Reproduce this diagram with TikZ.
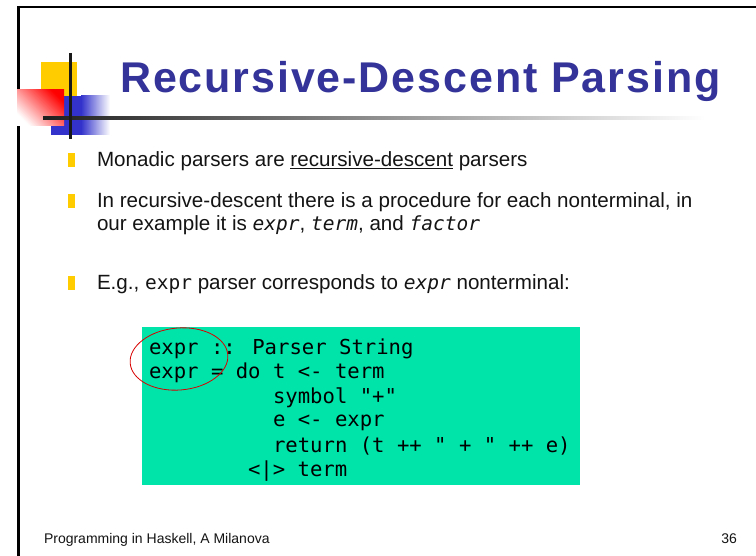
\documentclass[tikz,border=0pt]{standalone}
\usepackage{fontspec}
\setmainfont{Liberation Sans}
\newfontfamily\codefont{DejaVu Sans Mono}
\newfontfamily\titlefont[LetterSpace=4.4]{Liberation Sans}
\definecolor{titleblue}{RGB}{51,51,153}
\definecolor{logoblue}{RGB}{51,51,204}
\definecolor{logoyellow}{RGB}{255,204,0}
\definecolor{codegreen}{RGB}{0,228,170}
\definecolor{bulletgold}{RGB}{255,204,0}
\definecolor{ink}{RGB}{20,20,20}
\tikzset{
  txt/.style={anchor=base west, inner sep=0pt, outer sep=0pt, text=ink, font=\fontsize{20.6}{24}\selectfont},
  codeline/.style={anchor=base west, inner sep=0pt, outer sep=0pt, text=black, font=\codefont\fontsize{20.6}{24}\selectfont},
  foot/.style={inner sep=0pt, outer sep=0pt, text=ink, font=\fontsize{14}{16}\selectfont},
}
\newcommand{\cmono}[1]{{\codefont\fontsize{19.5}{24}\selectfont #1}}
\newcommand{\imono}[1]{{\codefont\itshape\fontsize{19.5}{24}\selectfont #1}}
\begin{document}
\begin{tikzpicture}[x=1pt,y=-1pt]
\useasboundingbox (0,0) rectangle (756,556);
\fill[white] (0,0) rectangle (756,556);
% slide border
\draw[line width=2.5pt, black] (17,7) -- (756,7);
\draw[line width=2.5pt, black] (18.5,6) -- (18.5,556);
% logo
\fill[logoyellow] (41,62) rectangle (77,96);
\fill[logoblue] (51,96) rectangle (81,135);
\shade[left color=logoblue, right color=white] (81,96) rectangle (110,135);
\shade[top color=red, bottom color=white, shading angle=-45] (17,90) rectangle (64,126);
\shade[left color=black!88, right color=white] (43,117) rectangle (705,120);
\draw[line width=2.2pt, black!90] (70.5,53) -- (70.5,139);
% title
\node[anchor=base west, inner sep=0pt, text=titleblue, font=\titlefont\bfseries\fontsize{43}{46}\selectfont] (title) at (120,93) {Recursive-Descent Parsing};
% bullets
\fill[bulletgold] (68,153) rectangle (75,167);
\node[txt] (b1) at (97,167) {Monadic parsers are \underline{recursive-descent} parsers};
\fill[bulletgold] (68,194) rectangle (75,208);
\node[txt] (b2a) at (97,208) {In recursive-descent there is a procedure for each nonterminal, in};
\node[txt] (b2b) at (97,231) {our example it is \imono{expr}, \imono{term}, and \imono{factor}};
\fill[bulletgold] (68,276) rectangle (75,290);
\node[txt] (b3) at (97,290) {E.g., \cmono{expr} parser corresponds to \imono{expr} nonterminal:};
% code box
\fill[codegreen] (142,327) rectangle (580,485);
\node[codeline] (c1) at (149,355) {expr :: Parser String};
\node[codeline] (c2) at (149,379) {expr = do t <- term};
\node[codeline] (c3) at (273,403) {symbol "+"};
\node[codeline] (c4) at (273,427) {e <- expr};
\node[codeline] (c5) at (273,452) {return (t ++ " + " ++ e)};
\node[codeline] (c6) at (248,476) {<|> term};
% red ellipse
\draw[red!85!black, line width=0.8pt, rotate around={5:(179,359)}] (179,359) ellipse [x radius=49, y radius=31];
% footer
\node[foot, anchor=base west] (f1) at (44,543) {Programming in Haskell, A Milanova};
\node[foot, anchor=base east] (f2) at (737,543) {36};
\end{tikzpicture}
\end{document}
